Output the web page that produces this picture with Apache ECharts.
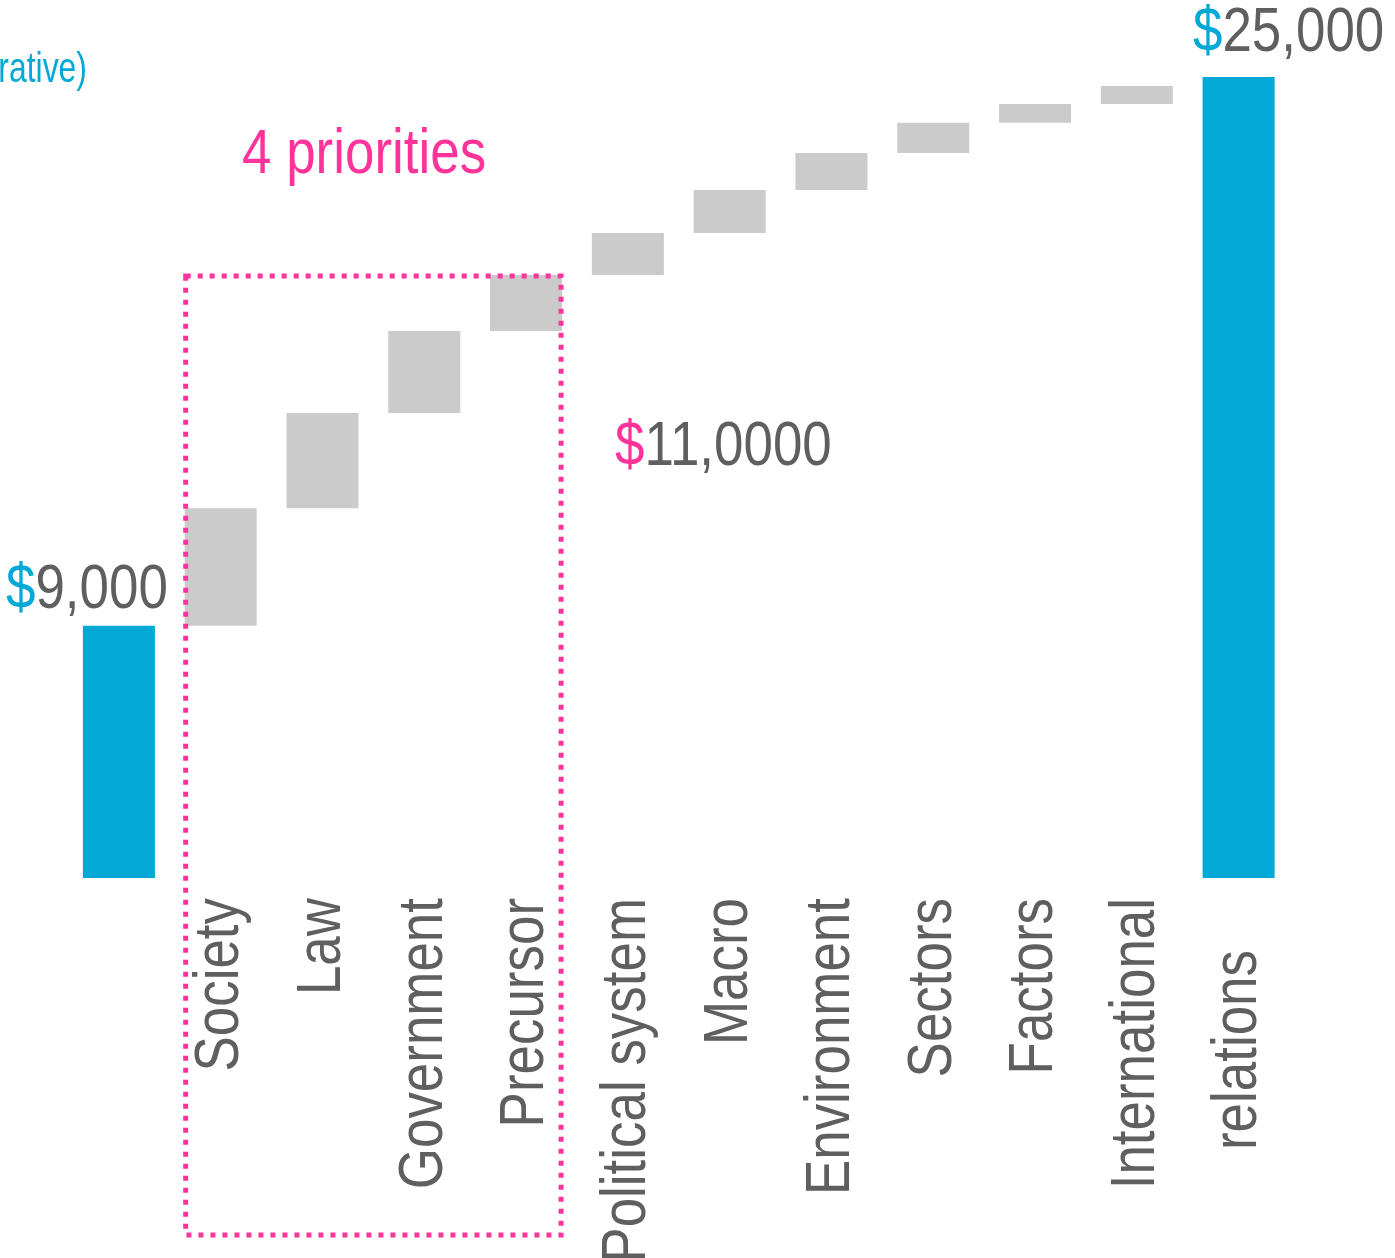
<!DOCTYPE html>
<html>
<head>
<meta charset="utf-8">
<script src="https://cdn.jsdelivr.net/npm/echarts@6/dist/echarts.min.js"></script>
<style>
  html, body { margin: 0; padding: 0; background: #fff; }
  #chart { width: 1395px; height: 1258px; }
</style>
</head>
<body>
<div id="chart"></div>
<script>
  // data
  const categories = ['', 'Society', 'Law', 'Government', 'Precursor', 'Political system',
    'Macro', 'Environment', 'Sectors', 'Factors', 'International', 'relations'];
  const startValue = 7870;
  const steps = [3670, 2970, 2560, 1750, 1310, 1340, 1160, 940, 590, 560];
  const endValue = 25000;
  const startLabel = '9,000';
  const endLabel = '25,000';
  const boxValueLabel = '11,0000';
  const boxTitle = '4 priorities';
  const noteText = '(illustrative)';

  // no narrow font installed, so text is squeezed horizontally instead
  const FONT = "'Liberation Sans', Arial, sans-serif";
  const NARROW = 0.84;
  const BLUE = '#02a9d6';
  const GRAY_TEXT = '#5f5f5f';
  const PINK = '#ff3399';
  const BAR_W = 72;

  // waterfall helpers
  const baseData = ['-'];
  const stepData = ['-'];
  let running = startValue;
  steps.forEach((s) => {
    baseData.push(running);
    stepData.push(s);
    running += s;
  });
  baseData.push('-');
  stepData.push('-');
  const boxTopValue = startValue + steps.slice(0, 4).reduce((a, b) => a + b, 0);

  const totalData = categories.map(() => '-');
  totalData[0] = startValue;
  totalData[categories.length - 1] = endValue;

  const chart = echarts.init(document.getElementById('chart'));
  chart.setOption({
    animation: false,
    backgroundColor: '#fff',
    grid: { left: 68, right: 105.5, top: 77, bottom: 380, containLabel: false, outerBoundsMode: 'none' },
    xAxis: {
      type: 'category',
      data: categories,
      axisLine: { show: false },
      axisTick: { show: false },
      splitLine: { show: false },
      axisLabel: { show: false },
    },
    yAxis: { type: 'value', min: 0, max: 25000, show: false },
    series: [
      {
        name: 'base',
        type: 'bar',
        stack: 'w',
        barWidth: BAR_W,
        silent: true,
        itemStyle: { color: 'transparent' },
        data: baseData,
      },
      {
        name: 'step',
        type: 'bar',
        stack: 'w',
        barWidth: BAR_W,
        itemStyle: { color: '#cbcbcb' },
        data: stepData,
      },
      {
        name: 'total',
        type: 'bar',
        stack: 'w',
        barWidth: BAR_W,
        itemStyle: { color: BLUE },
        data: totalData,
      },
    ],
  });

  const toPx = (i, v) => chart.convertToPixel({ gridIndex: 0 }, [i, v]);
  const axisY = toPx(0, 0)[1];

  const money = (sign, num, signColor) => ({
    text: '{s|' + sign + '}{n|' + num + '}',
    rich: {
      s: { fill: signColor, fontSize: 63, fontFamily: FONT },
      n: { fill: GRAY_TEXT, fontSize: 63, fontFamily: FONT },
    },
  });

  const graphics = [];

  // category labels, rotated
  categories.forEach((c, i) => {
    if (!c) return;
    const x = toPx(i, 0)[0];
    graphics.push({
      type: 'text',
      silent: true,
      x: x,
      y: axisY + 20 + (c === 'relations' ? 52 : 0),
      rotation: Math.PI / 2,
      scaleX: NARROW,
      style: {
        text: c, align: 'right', verticalAlign: 'middle',
        fill: GRAY_TEXT, fontSize: 63, fontFamily: FONT,
      },
    });
  });

  // totals labels
  const startTop = toPx(0, startValue);
  const endTop = toPx(categories.length - 1, endValue);
  graphics.push({
    type: 'text', silent: true,
    x: startTop[0] - 32, y: startTop[1] - 4, scaleX: NARROW,
    style: Object.assign({ align: 'center', verticalAlign: 'bottom' }, money('$', startLabel, BLUE)),
  });
  graphics.push({
    type: 'text', silent: true,
    x: endTop[0] + 50, y: endTop[1] - 12, scaleX: NARROW,
    style: Object.assign({ align: 'center', verticalAlign: 'bottom' }, money('$', endLabel, BLUE)),
  });

  // annotation box around the first four steps
  const p1 = toPx(1, boxTopValue);
  const p4 = toPx(4, boxTopValue);
  const boxLeft = p1[0] - BAR_W / 2 + 1;
  const boxRight = p4[0] + BAR_W / 2 - 1;
  const boxTop = p4[1] + 1;
  const boxBottom = 1235;

  graphics.push({
    type: 'rect',
    silent: true,
    shape: { x: boxLeft, y: boxTop, width: boxRight - boxLeft, height: boxBottom - boxTop },
    style: { fill: 'none', stroke: PINK, lineWidth: 5, lineDash: [5, 7] },
    z: 10,
  });
  graphics.push({
    type: 'text', silent: true,
    x: 242, y: 124, scaleX: NARROW,
    style: { text: boxTitle, align: 'left', verticalAlign: 'top', fill: PINK, fontSize: 63, fontFamily: FONT },
  });
  graphics.push({
    type: 'text', silent: true,
    x: 615, y: 416, scaleX: NARROW,
    style: Object.assign({ align: 'left', verticalAlign: 'top' }, money('$', boxValueLabel, PINK)),
  });
  graphics.push({
    type: 'text', silent: true,
    x: 87, y: 49, scaleX: 0.76,
    style: { text: noteText, align: 'right', verticalAlign: 'top', fill: BLUE, fontSize: 42, fontFamily: FONT },
  });

  chart.setOption({ graphic: graphics });
</script>
</body>
</html>
